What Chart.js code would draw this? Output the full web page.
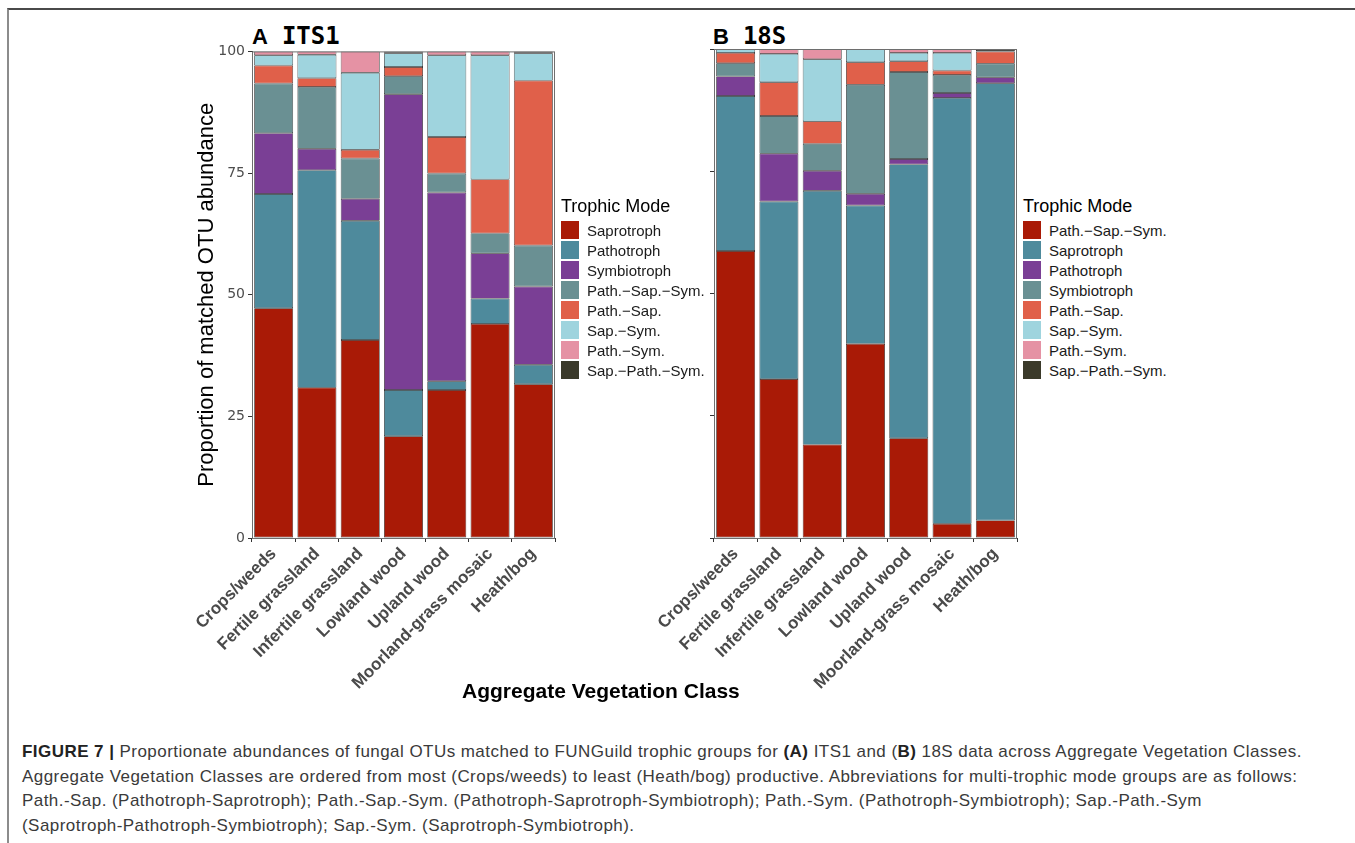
<!DOCTYPE html>
<html>
<head>
<meta charset="utf-8">
<script src="https://cdn.jsdelivr.net/npm/chart.js@4.4.1/dist/chart.umd.min.js"></script>
<style>
  body { margin: 0; width: 1355px; height: 843px; background: #fff; position: relative; overflow: hidden;
         font-family: "Liberation Sans", Arial, sans-serif; }
  .frame { position: absolute; left: 7px; top: 8px; right: 0; bottom: 0;
           border-top: 2px solid #4a4a4a; border-left: 2px solid #8c8c8c; }
  canvas { position: absolute; }
  .ptitle { position: absolute; top: 22px; font-weight: bold; color: #000; }
  .ptitle .l { font-family: "Liberation Sans", Arial, sans-serif; font-size: 22px; }
  .ptitle .n { font-family: "DejaVu Sans Mono", monospace; font-size: 24px; margin-left: 14px; }
  .legend { position: absolute; top: 194px; }
  .legend .t { font-size: 18px; color: #000; height: 24px; line-height: 24px; margin-bottom: 2px; }
  .legend .r { height: 20px; display: flex; align-items: center; font-size: 15px; color: #1a1a1a; }
  .legend .sw { width: 18px; height: 18px; margin-right: 8px; }
  .xtitle { position: absolute; left: 462px; top: 679px; font-size: 21px; font-weight: bold; color: #000; line-height: 24px; }
  .caption { position: absolute; left: 22px; top: 740px; font-size: 17px; letter-spacing: 0.45px; line-height: 24.6px;
             color: #3a3a3a; white-space: nowrap; }
  .caption b { color: #222; }
</style>
</head>
<body>
<div class="frame"></div>

<div class="ptitle" style="left:252px"><span class="l">A</span><span class="n">ITS1</span></div>
<div class="ptitle" style="left:713px"><span class="l">B</span><span class="n">18S</span></div>

<canvas id="chartA" width="410" height="668" style="left:150px;top:40px"></canvas>
<canvas id="chartB" width="410" height="668" style="left:612px;top:40px"></canvas>

<div class="legend" id="legendA" style="left:561px"></div>
<div class="legend" id="legendB" style="left:1023px"></div>

<div class="xtitle">Aggregate Vegetation Class</div>

<div class="caption">
<b>FIGURE 7 |</b> Proportionate abundances of fungal OTUs matched to FUNGuild trophic groups for <b>(A)</b> ITS1 and (<b>B)</b> 18S data across Aggregate Vegetation Classes.<br>
Aggregate Vegetation Classes are ordered from most (Crops/weeds) to least (Heath/bog) productive. Abbreviations for multi-trophic mode groups are as follows:<br>
Path.-Sap. (Pathotroph-Saprotroph); Path.-Sap.-Sym. (Pathotroph-Saprotroph-Symbiotroph); Path.-Sym. (Pathotroph-Symbiotroph); Sap.-Path.-Sym<br>
(Saprotroph-Pathotroph-Symbiotroph); Sap.-Sym. (Saprotroph-Symbiotroph).
</div>

<script>
// vegetation classes, most to least productive
var vegClasses = ['Crops/weeds', 'Fertile grassland', 'Infertile grassland', 'Lowland wood',
                  'Upland wood', 'Moorland-grass mosaic', 'Heath/bog'];

// fill colours, bottom of the stack first
var modeColors = ['#a91a06', '#4e8a9c', '#7a3f95', '#6a9093', '#e0604a', '#9fd4de', '#e592a4', '#3b3a2a'];

// A: ITS1 (percent of matched OTU abundance)
var itsModes = ['Saprotroph', 'Pathotroph', 'Symbiotroph', 'Path.\u2212Sap.\u2212Sym.', 'Path.\u2212Sap.',
                'Sap.\u2212Sym.', 'Path.\u2212Sym.', 'Sap.\u2212Path.\u2212Sym.'];
var itsSaprotroph  = [47.2, 30.9, 40.7, 20.9, 30.4, 44.0, 31.6];
var itsPathotroph  = [23.5, 44.7, 24.5,  9.5,  1.8,  5.2,  4.0];
var itsSymbiotroph = [12.5,  4.4,  4.5, 60.8, 38.8,  9.3, 16.1];
var itsPathSapSym  = [10.2, 12.7,  8.3,  3.7,  3.9,  4.1,  8.4];
var itsPathSap     = [ 3.7,  1.8,  1.8,  1.9,  7.5, 11.1, 33.9];
var itsSapSym      = [ 2.1,  4.8, 15.8,  2.8, 16.8, 25.5,  5.6];
var itsPathSym     = [ 0.8,  0.7,  4.4,  0.2,  0.8,  0.8,  0.2];
var itsSapPathSym  = [ 0,    0,    0,    0.2,  0,    0,    0.2];

// B: 18S
var s18Modes = ['Path.\u2212Sap.\u2212Sym.', 'Saprotroph', 'Pathotroph', 'Symbiotroph', 'Path.\u2212Sap.',
                'Sap.\u2212Sym.', 'Path.\u2212Sym.', 'Sap.\u2212Path.\u2212Sym.'];
var s18PathSapSym  = [58.7, 32.5, 19.1, 39.7, 20.4,  2.9,  3.6];
var s18Saprotroph  = [31.7, 36.3, 51.9, 28.3, 56.0, 87.1, 89.4];
var s18Pathotroph  = [ 4.0,  9.8,  4.1,  2.4,  1.1,  1.0,  1.2];
var s18Symbiotroph = [ 2.7,  7.7,  5.5, 22.3, 17.8,  3.7,  2.8];
var s18PathSap     = [ 2.1,  6.9,  4.6,  4.6,  2.2,  0.9,  2.5];
var s18SapSym      = [ 0.8,  5.8, 12.7,  2.7,  1.7,  3.6,  0.1];
var s18PathSym     = [ 0,    1.0,  2.1,  0,    0.8,  0.8,  0  ];
var s18SapPathSym  = [ 0,    0,    0,    0,    0,    0,    0.4];

var yTicks = [0, 25, 50, 75, 100];

// grey frame round the plotting panel
var panelBox = {
  id: 'panelBox',
  afterDraw: function(chart) {
    var a = chart.chartArea, ctx = chart.ctx;
    ctx.save();
    ctx.strokeStyle = '#6e6e6e';
    ctx.lineWidth = 1;
    ctx.strokeRect(a.left + 0.5, a.top + 0.5, a.right - a.left - 1, a.bottom - a.top);
    ctx.restore();
  }
};

function makePanel(id, modes, series, showY) {
  var datasets = series.map(function(d, i) {
    return {
      label: modes[i],
      data: d,
      backgroundColor: modeColors[i],
      borderColor: '#1c1c1c',
      borderWidth: 0.7,
      borderSkipped: false,
      categoryPercentage: 0.9,
      barPercentage: 1
    };
  });
  return new Chart(document.getElementById(id), {
    type: 'bar',
    data: { labels: vegClasses, datasets: datasets },
    options: {
      responsive: false,
      animation: false,
      devicePixelRatio: 1,
      layout: { padding: { top: 9, right: 5, left: 0, bottom: 0 } },
      plugins: { legend: { display: false }, tooltip: { enabled: false } },
      scales: {
        x: {
          stacked: true,
          grid: { drawOnChartArea: false, tickLength: 4, color: '#333' },
          border: { color: '#333', width: 1 },
          ticks: {
            autoSkip: false, minRotation: 45, maxRotation: 45, padding: 2,
            color: '#4a4a4a',
            font: { family: 'Liberation Sans', size: 17, weight: 'bold' }
          },
          afterFit: function(s) { s.height = 170; }
        },
        y: {
          stacked: true,
          min: 0, max: 100,
          afterBuildTicks: function(s) { s.ticks = yTicks.map(function(v) { return { value: v }; }); },
          grid: { drawOnChartArea: false, tickLength: 4, color: '#333' },
          border: { color: '#333', width: 1 },
          ticks: {
            display: showY, padding: 3, color: '#4d4d4d',
            font: { family: 'DejaVu Sans', size: 14 }
          },
          title: {
            display: showY,
            text: 'Proportion of matched OTU abundance',
            color: '#000',
            padding: { top: 44, bottom: 0 },
            font: { family: 'Liberation Sans', size: 22 }
          },
          afterFit: function(s) { s.width = 102; }
        }
      }
    },
    plugins: [panelBox]
  });
}

function makeLegend(id, modes) {
  var html = '<div class="t">Trophic Mode</div>';
  modes.forEach(function(m, i) {
    html += '<div class="r"><span class="sw" style="background:' + modeColors[i] + '"></span>' + m + '</div>';
  });
  document.getElementById(id).innerHTML = html;
}

makePanel('chartA', itsModes,
  [itsSaprotroph, itsPathotroph, itsSymbiotroph, itsPathSapSym, itsPathSap, itsSapSym, itsPathSym, itsSapPathSym], true);
makePanel('chartB', s18Modes,
  [s18PathSapSym, s18Saprotroph, s18Pathotroph, s18Symbiotroph, s18PathSap, s18SapSym, s18PathSym, s18SapPathSym], false);
makeLegend('legendA', itsModes);
makeLegend('legendB', s18Modes);
</script>
</body>
</html>
